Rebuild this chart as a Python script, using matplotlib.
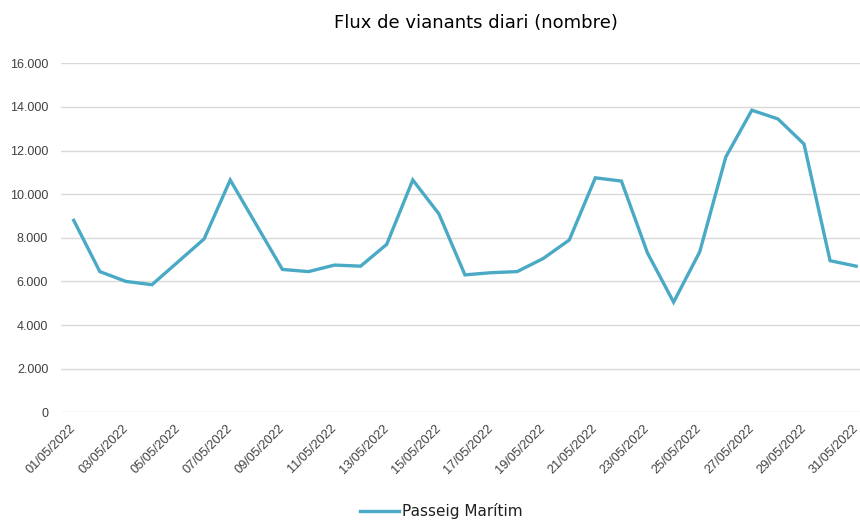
import matplotlib
matplotlib.use("Agg")
import matplotlib.pyplot as plt
from matplotlib.ticker import FuncFormatter, MultipleLocator
from matplotlib.transforms import ScaledTranslation

days = list(range(1, 32))
dates = [f"{d:02d}/05/2022" for d in days]
values = [8800, 6450, 6000, 5850, 6900, 7950, 10650, 8600, 6550, 6450,
          6750, 6700, 7700, 10650, 9100, 6300, 6400, 6450, 7050, 7900,
          10750, 10600, 7300, 5050, 7350, 11700, 13850, 13450, 12300, 6950,
          6700]
series_name = "Passeig Marítim"
title = "Flux de vianants diari (nombre)"

fig = plt.figure(figsize=(8.6, 5.2), dpi=100)
ax = fig.add_axes([60.7 / 860, (520 - 412.3) / 520, 808.5 / 860, 349 / 520])

ax.plot(days, values, color="#4AAAC5", lw=2.4, solid_joinstyle="miter",
        label=series_name, zorder=3)

ax.set_xlim(0.5, 31.5)
ax.set_ylim(0, 16000)
ax.yaxis.set_major_locator(MultipleLocator(2000))
ax.yaxis.set_major_formatter(FuncFormatter(lambda v, p: f"{int(v):,}".replace(",", ".")))
ax.grid(axis="y", color="#D9D9D9", lw=1)
ax.set_axisbelow(True)
for s in ax.spines.values():
    s.set_visible(False)

ax.tick_params(axis="x", length=0, pad=7)
ax.tick_params(axis="y", length=0, pad=9, labelsize=9, labelcolor="#404040")
ax.set_xticks(days[::2])
ax.set_xticklabels(dates[::2], rotation=45, ha="right", rotation_mode="anchor",
                   fontsize=9.2, color="#404040", family="Liberation Sans")
off = ScaledTranslation(-4 / 100, 0, fig.dpi_scale_trans)
for t in ax.get_xticklabels():
    t.set_transform(t.get_transform() + off)
for t in ax.get_yticklabels():
    t.set_family("Liberation Sans")

fig.text(476 / 860, 1 - 23 / 520, title, ha="center", va="center",
         fontsize=13, color="#000000", family="DejaVu Sans")

leg = fig.legend(loc="center", bbox_to_anchor=(441 / 860, 1 - 511 / 520),
                 frameon=False, handlelength=2.6, handletextpad=0.15,
                 borderpad=0.1, prop={"family": "DejaVu Sans", "size": 11})
for t in leg.get_texts():
    t.set_color("#202020")

fig.savefig("out.png", dpi=100)
